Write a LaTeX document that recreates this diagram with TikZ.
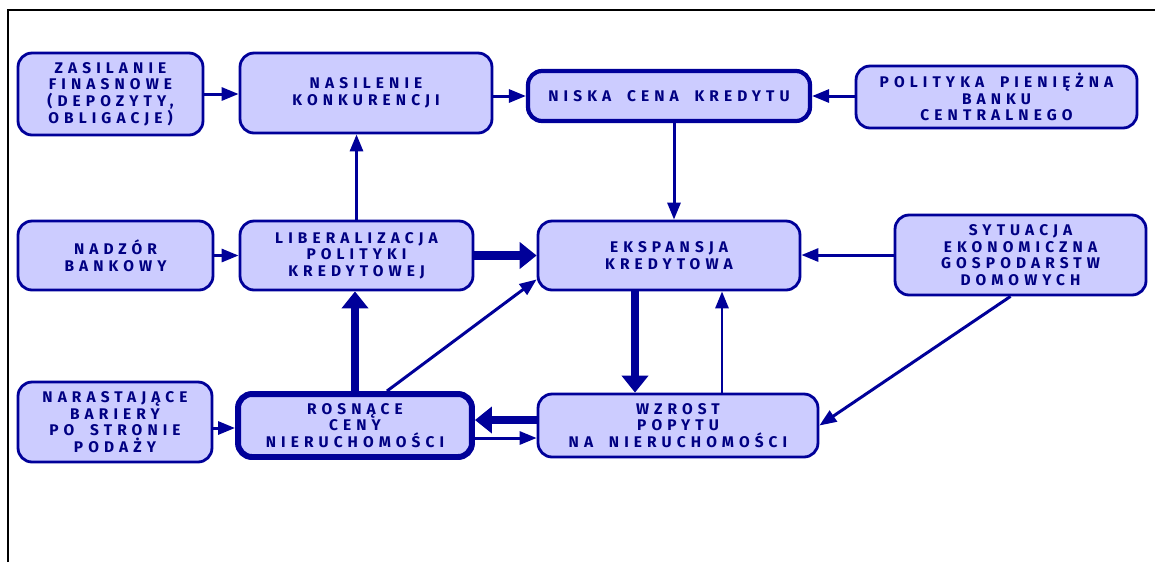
\documentclass[tikz,border=0pt]{standalone}
\usepackage{fontspec}
\usepackage{xcolor}
\usepackage{tikz}
\usetikzlibrary{arrows.meta, positioning, calc}

\newfontfamily\boxfont[LetterSpace=33, WordSpace=1.8]{Fira Sans}
\definecolor{navy}{HTML}{000099}
\definecolor{boxfill}{HTML}{CCCCFF}

\begin{document}
\begin{tikzpicture}[x=0.02cm, y=-0.02cm,
    box/.style={draw=navy, fill=boxfill, line width=1.6pt, rounded corners=0.28cm,
        align=center, text=navy!85!black, inner sep=0pt,
        font=\boxfont\bfseries\fontsize{8.8}{9.5}\selectfont},
    thickbox/.style={box, line width=2.4pt},
    heavybox/.style={box, line width=3.4pt},
    arr/.style={draw=navy, line width=1.7pt, -{Triangle[length=0.34cm, width=0.26cm]}},
    bigarr/.style={draw=navy, line width=5pt, -{Triangle[length=0.34cm, width=0.52cm]}}]

    \useasboundingbox (0,0) rectangle (1155,562);

    % Frame
    \draw[line width=1.2pt] (8,562) -- (8,10) -- (1155,10);

    % Top row
    \node[box, minimum width=3.7cm, minimum height=1.64cm] (zas) at (110.5,94)
        {ZASILANIE\\FINASNOWE\\(DEPOZYTY,\\OBLIGACJE)};
    \node[box, minimum width=5.04cm, minimum height=1.6cm] (nas) at (366,93)
        {NASILENIE\\KONKURENCJI};
    \node[thickbox, minimum width=5.64cm, minimum height=1.0cm] (nis) at (669,96)
        {NISKA CENA KREDYTU};
    \node[box, minimum width=5.62cm, minimum height=1.24cm] (pol) at (996.5,97)
        {POLITYKA PIENIĘŻNA\\BANKU\\CENTRALNEGO};

    % Middle row
    \node[box, minimum width=3.9cm, minimum height=1.38cm] (nad) at (115.5,255.5)
        {NADZÓR\\BANKOWY};
    \node[box, minimum width=4.66cm, minimum height=1.38cm] (lib) at (356.5,255.5)
        {LIBERALIZACJA\\POLITYKI\\KREDYTOWEJ};
    \node[box, minimum width=5.24cm, minimum height=1.38cm] (eks) at (669,255.5)
        {EKSPANSJA\\KREDYTOWA};
    \node[box, minimum width=5.02cm, minimum height=1.6cm] (syt) at (1020.5,255)
        {SYTUACJA\\EKONOMICZNA\\GOSPODARSTW\\DOMOWYCH};

    % Bottom row
    \node[box, minimum width=3.88cm, minimum height=1.6cm] (nar) at (115,422)
        {NARASTAJĄCE\\BARIERY\\PO STRONIE\\PODAŻY};
    \node[heavybox, minimum width=4.68cm, minimum height=1.26cm] (ros) at (355,425.5)
        {ROSNĄCE\\CENY\\NIERUCHOMOŚCI};
    \node[box, minimum width=5.6cm, minimum height=1.26cm] (wzr) at (678,425.5)
        {WZROST\\POPYTU\\NA NIERUCHOMOŚCI};

    % Arrows, top row
    \draw[arr] (zas.east) -- (zas.east -| nas.west);
    \draw[arr] (nis.west -| nas.east) -- (nis.west);
    \draw[arr] (pol.west |- nis.east) -- (nis.east);
    \draw[arr] ([xshift=0.1cm]nis.south) -- ([xshift=0.1cm]nis.south |- eks.north);
    \draw[arr] (lib.north) -- (lib.north |- nas.south);

    % Arrows, middle row
    \draw[arr] (nad.east) -- (nad.east -| lib.west);
    \draw[bigarr] (lib.east) -- (lib.east -| eks.west);
    \draw[arr] (syt.west) -- (syt.west -| eks.east);
    \draw[arr] ([xshift=-0.2cm]syt.south) -- (wzr.east);

    % Arrows, bottom row
    \draw[bigarr] (ros.north) -- (ros.north |- lib.south);
    \draw[arr] ([xshift=0.64cm]ros.north) -- ([yshift=0.24cm]eks.south west);
    \draw[bigarr] ([xshift=-0.86cm]wzr.north |- eks.south) -- ([xshift=-0.86cm]wzr.north);
    \draw[arr] ([xshift=0.88cm]wzr.north) -- ([xshift=0.88cm]wzr.north |- eks.south);
    \draw[bigarr] ([yshift=0.11cm]wzr.west) -- ([yshift=0.11cm]wzr.west -| ros.east);
    \draw[arr] ([yshift=-0.25cm]ros.east) -- ([yshift=-0.25cm]ros.east -| wzr.west);
    \draw[arr] ([yshift=-0.12cm]nar.east) -- ([yshift=-0.12cm]nar.east -| ros.west);
\end{tikzpicture}
\end{document}
